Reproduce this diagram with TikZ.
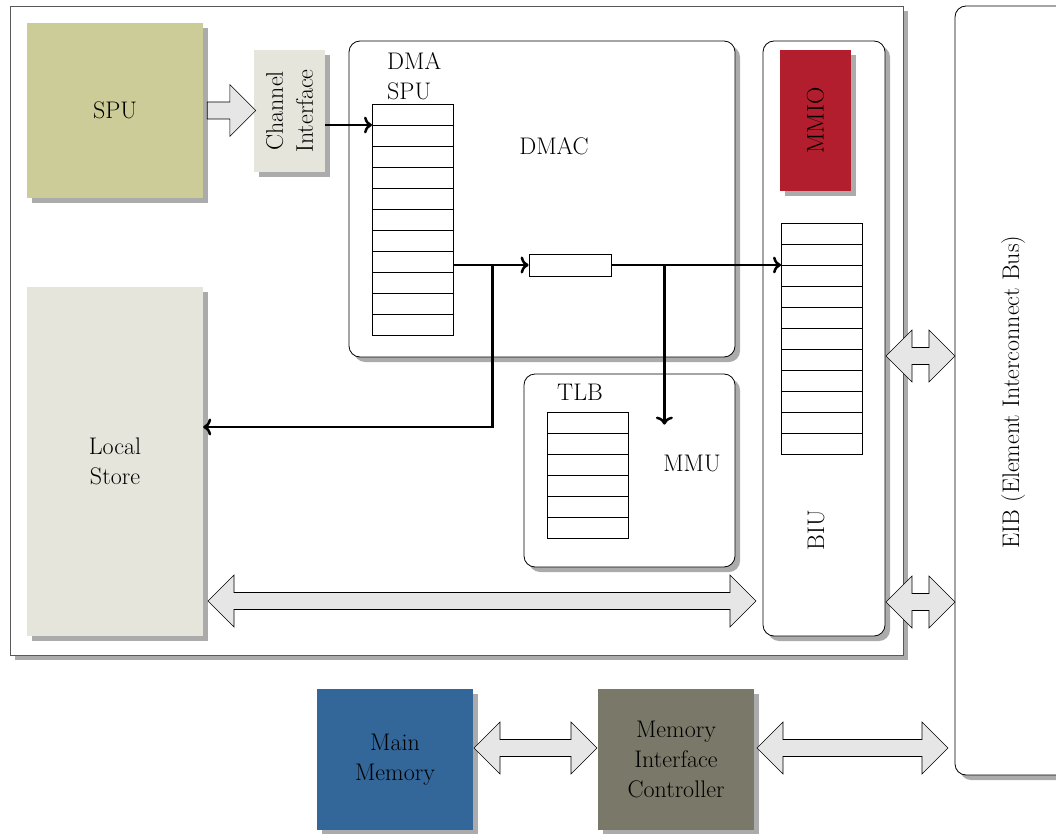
\documentclass[tikz,border=0pt]{standalone}
\usepackage{fontspec}
\usetikzlibrary{shadows,calc,arrows.meta}
\definecolor{spuc}{RGB}{204,204,153}
\definecolor{lsc}{RGB}{229,229,220}
\definecolor{mmioc}{RGB}{178,30,46}
\definecolor{mmc}{RGB}{51,102,153}
\definecolor{micc}{RGB}{122,120,104}
\definecolor{arrc}{RGB}{230,230,230}
\newcommand\dblblk[2]{%
  \path[barrow] let \p1=(#1), \p2=(#2) in
    (\x1,\y1) -- (\x1+26pt,\y1+26pt) -- (\x1+26pt,\y1+8.5pt) -- (\x2-26pt,\y1+8.5pt)
    -- (\x2-26pt,\y1+26pt) -- (\x2,\y1) -- (\x2-26pt,\y1-26pt) -- (\x2-26pt,\y1-8.5pt)
    -- (\x1+26pt,\y1-8.5pt) -- (\x1+26pt,\y1-26pt) -- cycle;}
\newcommand\sglblk[2]{%
  \path[barrow] let \p1=(#1), \p2=(#2) in
    (\x1,\y1+8.5pt) -- (\x2-26pt,\y1+8.5pt) -- (\x2-26pt,\y1+26pt) -- (\x2,\y1)
    -- (\x2-26pt,\y1-26pt) -- (\x2-26pt,\y1-8.5pt) -- (\x1,\y1-8.5pt) -- cycle;}
\begin{document}
\begin{tikzpicture}[x=1pt,y=-1pt,
  txt/.style={font=\fontsize{24}{30}\selectfont, inner sep=0pt, align=center},
  shad/.style={drop shadow={shadow xshift=5pt,shadow yshift=-5pt,opacity=0.6,fill=black!55}},
  blk/.style={rectangle, inner sep=0pt, shad},
  rbox/.style={blk, draw=black, line width=0.8pt, fill=white, rounded corners=11pt},
  queue/.style={rectangle, draw=black, line width=0.8pt, fill=white, inner sep=0pt, minimum width=81pt},
  rowline/.style={line width=0.8pt},
  conn/.style={line width=2.5pt, -{To[length=8pt,width=17pt]}},
  barrow/.style={draw=black, line width=0.6pt, fill=arrc},
]
\useasboundingbox (0,0) rectangle (1056,834);
% containers
\node[blk, draw=black!65, line width=0.8pt, fill=white, minimum width=893pt, minimum height=649pt] (outer) at (456.5,330.5) {};
\node[rbox, minimum width=120pt, minimum height=769pt] (eib) at (1015,390.5) {};
\node[txt, rotate=90] (eibt) at (1013,392) {EIB (Element Interconnect Bus)};
% SPU and channel
\node[blk, txt, fill=spuc, minimum width=176pt, minimum height=175pt] (spu) at (115,110.5) {SPU};
\node[blk, fill=lsc, minimum width=71pt, minimum height=122pt] (chan) at (289.5,111) {};
\node[txt, rotate=90] (chant) at (chan) {Channel\\Interface};
% DMAC
\node[rbox, minimum width=386pt, minimum height=316pt] (dmac) at (542,199) {};
\node[txt] (dmact) at (554,146) {DMAC};
\node[txt, align=left, anchor=west] (dmaspu) at (387,76) {DMA\\SPU};
\node[queue, minimum height=231pt, anchor=north west] (dq) at (372,104) {};
\foreach \i in {1,...,10} \draw[rowline] ($(dq.north west)+(0,21*\i)$) -- ($(dq.north east)+(0,21*\i)$);
\node[queue, minimum width=82pt, minimum height=22pt] (sr) at (570,265) {};
% BIU
\node[rbox, minimum width=122pt, minimum height=595pt] (biu) at (824,338.5) {};
\node[blk, fill=mmioc, minimum width=71pt, minimum height=141pt] (mmio) at (815.5,120.5) {};
\node[txt, rotate=90] (mmiot) at (mmio) {MMIO};
\node[queue, minimum height=231pt, anchor=north west] (bq) at (781,223) {};
\foreach \i in {1,...,10} \draw[rowline] ($(bq.north west)+(0,21*\i)$) -- ($(bq.north east)+(0,21*\i)$);
\node[txt, rotate=90] (biut) at (816,530) {BIU};
% MMU
\node[rbox, minimum width=211pt, minimum height=193pt] (mmu) at (629.5,470.5) {};
\node[txt] (tlbt) at (580,392) {TLB};
\node[queue, minimum height=126pt, anchor=north west] (tq) at (547,412) {};
\foreach \i in {1,...,5} \draw[rowline] ($(tq.north west)+(0,21*\i)$) -- ($(tq.north east)+(0,21*\i)$);
\node[txt] (mmut) at (692,463) {MMU};
% Local store
\node[blk, txt, fill=lsc, minimum width=176pt, minimum height=349pt] (ls) at (115,461.5) {Local\\Store};
% memory
\node[blk, txt, fill=mmc, minimum width=156pt, minimum height=141pt] (mm) at (395,759.5) {Main\\Memory};
\node[blk, txt, fill=micc, minimum width=156pt, minimum height=141pt] (mic) at (676,759.5) {Memory\\Interface\\Controller};
% block arrows
\coordinate (a1s) at ($(spu.east)+(4,0)$);
\coordinate (a1e) at ($(chan.west)+(2,0)$);
\sglblk{a1s}{a1e}
\coordinate (a2s) at (208,601);
\coordinate (a2e) at (756,601);
\dblblk{a2s}{a2e}
\coordinate (a3s) at (886,356);
\coordinate (a3e) at (955,356);
\dblblk{a3s}{a3e}
\coordinate (a4s) at (886,602);
\coordinate (a4e) at (955,602);
\dblblk{a4s}{a4e}
\coordinate (a5s) at (474,748);
\coordinate (a5e) at (597,748);
\dblblk{a5s}{a5e}
\coordinate (a6s) at (757,748);
\coordinate (a6e) at (948,748);
\dblblk{a6s}{a6e}
% connectors
\draw[conn] ($(chan.east)+(0,14)$) -- ($(dq.north west)+(0,21)$);
\draw[conn] (dq.east |- sr.west) -- (sr.west);
\coordinate (j1) at ($(dq.east |- sr.west)!0.52!(sr.west)$);
\draw[conn] (j1) |- ($(ls.east)+(0,-34.5)$);
\draw[conn] (sr.east) -- (bq.west |- sr.east);
\coordinate (j2) at ($(sr.east)+(53,0)$);
\coordinate (mmuin) at ($(j2 |- mmu.north)+(0,51)$);
\draw[conn] (j2) -- (mmuin);
\end{tikzpicture}
\end{document}
